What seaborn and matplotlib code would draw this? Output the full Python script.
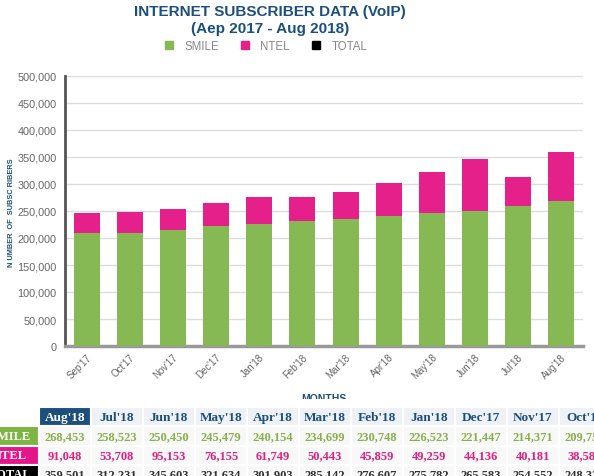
import matplotlib
matplotlib.use("Agg")
import matplotlib.pyplot as plt
from matplotlib.patches import Patch
from matplotlib.ticker import FuncFormatter, FixedLocator
import pandas as pd
import seaborn as sns

# data (Sep'17 .. Aug'18)
months = ["Sep'17", "Oct'17", "Nov'17", "Dec'17", "Jan'18", "Feb'18",
          "Mar'18", "Apr'18", "May'18", "Jun'18", "Jul'18", "Aug'18"]
smile = [209100, 209750, 214371, 221447, 226523, 230748,
         234699, 240154, 245479, 250450, 258523, 268453]
ntel = [37200, 38580, 40181, 44136, 49259, 45859,
        50443, 61749, 76155, 95153, 53708, 91048]
total = [246300, 248330, 254552, 265583, 275782, 276607,
         285142, 301903, 321634, 345603, 312231, 359501]

df = pd.DataFrame({'month': months, 'smile': smile, 'ntel': ntel, 'total': total})

GREEN = '#86b953'
PINK = '#e6208a'
BLUE = '#1d4f7c'

sns.set_style("white")
plt.rcParams['font.family'] = ['Liberation Sans', 'DejaVu Sans']

fig = plt.figure(figsize=(5.94, 4.77), dpi=100)
ax = fig.add_axes([65/594, 1 - 347/477, 518/594, 270/477])

sns.barplot(data=df, x='month', y='total', color=PINK, saturation=1,
            width=0.6, linewidth=0, ax=ax, zorder=2)
sns.barplot(data=df, x='month', y='smile', color=GREEN, saturation=1,
            width=0.6, linewidth=0, ax=ax, zorder=3)

ax.set_xlim(-0.5, len(months) - 0.5)
ax.set_ylim(0, 500000)
ax.set_yticks(range(0, 500001, 50000))
ax.yaxis.set_major_formatter(FuncFormatter(lambda v, p: f'{int(v):,}'))
ax.yaxis.grid(True, color='#dcdcdc', lw=1)
ax.set_axisbelow(True)
ax.set_xlabel('')
ax.set_ylabel('')

for s in ['top', 'right']:
    ax.spines[s].set_visible(False)
ax.spines['left'].set_color('#555555')
ax.spines['left'].set_linewidth(2)
ax.spines['bottom'].set_color('#999999')
ax.spines['bottom'].set_linewidth(2.5)

ax.tick_params(axis='y', length=4, width=1, color='#555555', labelsize=7.8,
               labelcolor='#666666', pad=2)
ax.tick_params(axis='x', which='major', length=0, labelsize=7,
               labelcolor='#666666', pad=4)
ax.xaxis.set_minor_locator(FixedLocator([i + 0.5 for i in range(-1, len(months))]))
ax.tick_params(axis='x', which='minor', length=4, width=0.8, color='#999999')
for lab in ax.get_xticklabels():
    lab.set_rotation(45)
    lab.set_ha('right')
    lab.set_rotation_mode('anchor')

# titles / labels
fig.text(270/594, 1 - 12/477, 'INTERNET SUBSCRIBER DATA (VoIP)', ha='center', va='center',
         fontsize=11, fontweight='bold', color=BLUE)
fig.text(270/594, 1 - 29/477, '(Aep 2017 - Aug 2018)', ha='center', va='center',
         fontsize=11, fontweight='bold', color=BLUE)
fig.text(12/594, 1 - 213/477, 'N UMBER  OF  SUBSC RIBERS', rotation=90, ha='center',
         va='center', fontsize=5.3, fontweight='bold', color=BLUE)
fig.text(324/594, 1 - 394/477, 'MONTHS', ha='center', va='top', fontsize=7.5,
         fontweight='bold', color=BLUE)

handles = [Patch(color=GREEN, label='SMILE'), Patch(color=PINK, label='NTEL'),
           Patch(color='black', label='TOTAL')]
fig.legend(handles=handles, loc='center', bbox_to_anchor=(266/594, 1 - 47/477), ncol=3,
           frameon=False, handlelength=0.7, handleheight=0.7, columnspacing=1.9,
           handletextpad=1.0, labelcolor='#888888', fontsize=8.3)

# table below the chart
tax = fig.add_axes([0, 0, 1, 77/477], zorder=10)
tax.set_facecolor('white')
tax.set_xticks([])
tax.set_yticks([])
for s in tax.spines.values():
    s.set_visible(False)

cols = months[::-1]
rows = [['SMILE'] + [f'{v:,}' for v in smile[::-1]],
        ['NTEL'] + [f'{v:,}' for v in ntel[::-1]],
        ['TOTAL'] + [f'{v:,}' for v in total[::-1]]]
row_colors = ['#7db543', '#e6168a', 'black']
val_colors = ['#8ab04c', '#e0207f', '#333333']

width_px = 58 + 52 * len(cols)
col_widths = [58 / width_px] + [52 / width_px] * len(cols)
tbl = tax.table(cellText=rows, colLabels=[''] + cols, colWidths=col_widths,
                cellLoc='center',
                bbox=[-19/594, -8/77, width_px/594, 77/77])
tbl.auto_set_font_size(False)
for (r, c), cell in tbl.get_celld().items():
    cell.set_edgecolor('white')
    cell.set_linewidth(1.5)
    txt = cell.get_text()
    txt.set_fontfamily('Liberation Serif')
    txt.set_fontweight('bold')
    txt.set_fontsize(9)
    if r == 0:
        if c == 0:
            cell.set_facecolor('white')
        elif c == 1:
            cell.set_facecolor(BLUE)
            txt.set_color('white')
        else:
            cell.set_facecolor('#eef1f5')
            txt.set_color(BLUE)
        txt.set_fontsize(9.5)
    else:
        if c == 0:
            cell.set_facecolor(row_colors[r - 1])
            txt.set_color('white')
        else:
            cell.set_facecolor('#f8f8f8')
            txt.set_color(val_colors[r - 1])

fig.savefig('out.png', dpi=100)
